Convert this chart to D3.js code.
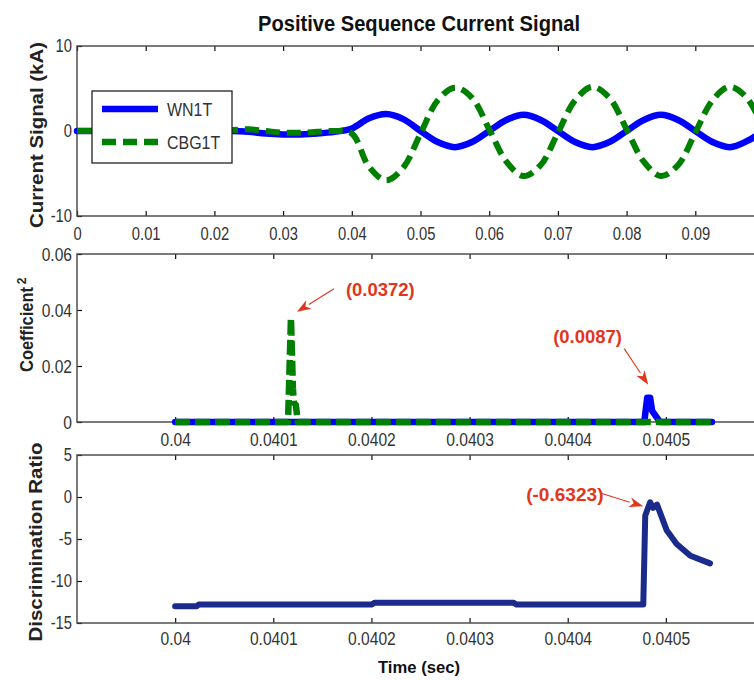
<!DOCTYPE html>
<html>
<head>
<meta charset="utf-8">
<script src="https://cdn.jsdelivr.net/npm/d3@7"></script>
<style>
  body { margin: 0; background: #fff; }
  svg { display: block; }
</style>
</head>
<body>
<svg id="chart" width="754" height="680"></svg>
<script>
// ---- data ----
const signalTime = [0, 0.0025, 0.005, 0.0075, 0.01, 0.0125, 0.015, 0.0175, 0.02, 0.0225,
  0.025, 0.0275, 0.03, 0.0325, 0.035, 0.0375, 0.04, 0.0425, 0.045, 0.0475,
  0.05, 0.0525, 0.055, 0.0575, 0.06, 0.0625, 0.065, 0.0675, 0.07, 0.0725,
  0.075, 0.0775, 0.08, 0.0825, 0.085, 0.0875, 0.09, 0.0925, 0.095, 0.0975, 0.1];
const wn1tSignal = [0, 0, 0, 0, 0, 0, 0, 0, 0, 0,
  -0.1, -0.3, -0.4, -0.4, -0.3, -0.1, 0.3, 1.5, 2.0, 1.4,
  0, -1.3, -1.9, -1.3, 0, 1.3, 1.9, 1.3, 0, -1.3,
  -1.9, -1.3, 0, 1.3, 1.9, 1.3, 0, -1.3, -1.9, -1.2, 0.1];
const cbg1tSignal = [0, 0, 0, 0, 0, 0, 0, 0, 0, 0.1,
  0.2, 0, -0.2, -0.2, -0.1, 0, -0.3, -4.2, -5.8, -4.3,
  -0.3, 3.6, 5.1, 3.9, 0.2, -3.6, -5.3, -4.0, -0.2, 3.6,
  5.2, 3.9, 0.2, -3.6, -5.3, -4.0, -0.2, 3.6, 5.2, 3.9, 0.2];

const coefTimeCBG = [0.04, 0.040115, 0.040118, 0.040119, 0.04012, 0.040121, 0.040123, 0.040125, 0.040547];
const coefCBG = [0, 0, 0.0372, 0.025, 0.012, 0.007, 0.006, 0, 0];
const coefTimeWN = [0.04, 0.040478, 0.040481, 0.040484, 0.040486, 0.04049, 0.040494, 0.040547];
const coefWN = [0, 0, 0.0087, 0.0087, 0.004, 0.002, 0, 0];

const ratioTime = [0.04, 0.040022, 0.040024, 0.0402, 0.040203, 0.040345, 0.040348, 0.040477,
  0.040479, 0.040484, 0.040487, 0.040491, 0.040501, 0.040511, 0.040525, 0.040545];
const ratio = [-13, -13, -12.8, -12.8, -12.6, -12.6, -12.8, -12.8,
  -2.2, -0.63, -1.3, -0.9, -4.0, -5.6, -7.0, -7.9];

const seriesNames = ["WN1T", "CBG1T"];
const signalXTicks = [0, 0.01, 0.02, 0.03, 0.04, 0.05, 0.06, 0.07, 0.08, 0.09];
const zoomXTicks = [0.04, 0.0401, 0.0402, 0.0403, 0.0404, 0.0405];
const signalYTicks = [-10, 0, 10];
const coefYTicks = [0, 0.02, 0.04, 0.06];
const ratioYTicks = [-15, -10, -5, 0, 5];

const SANS = '"Liberation Sans", Arial, sans-serif';
const BLUE = "#0000ff", GREEN = "#008000", NAVY = "#1a2b8c", RED = "#e2361c";
const X0 = 77, X1 = 764;

const svg = d3.select("#chart");
const fmt = d => String(+d.toFixed(4));

// squeeze text horizontally to mimic the narrow face of the original
function condense(sel, k) {
  sel.each(function () {
    const w = this.getComputedTextLength();
    d3.select(this).attr("textLength", w * k).attr("lengthAdjust", "spacingAndGlyphs");
  });
}

function makePanel(cfg) {
  const x = d3.scaleLinear().domain(cfg.xDomain).range([X0, X1]);
  const y = d3.scaleLinear().domain(cfg.yDomain).range([cfg.bottom, cfg.top]);
  const g = svg.append("g");

  g.append("g")
    .attr("transform", `translate(0,${cfg.bottom})`)
    .call(d3.axisBottom(x).tickValues(cfg.xTicks).tickSize(-5).tickSizeOuter(0)
      .tickPadding(cfg.xPad).tickFormat(fmt));
  g.append("g")
    .attr("transform", `translate(0,${cfg.top})`)
    .call(d3.axisTop(x).tickValues(cfg.xTicks).tickSize(-5).tickSizeOuter(0).tickFormat(""));
  g.append("g")
    .attr("class", "yaxis")
    .attr("transform", `translate(${X0},0)`)
    .call(d3.axisLeft(y).tickValues(cfg.yTicks).tickSize(-5).tickSizeOuter(0)
      .tickPadding(5).tickFormat(fmt));

  g.selectAll(".domain").remove();
  g.selectAll(".tick line").attr("stroke", "#111").attr("stroke-width", 1.2);
  g.selectAll(".tick text")
    .attr("font-family", SANS)
    .attr("font-size", cfg.fontSize)
    .attr("fill", "#333");
  g.selectAll(".yaxis .tick text").attr("font-size", cfg.yFontSize);
  condense(g.selectAll(".tick text"), 0.82);

  g.append("rect")
    .attr("x", X0).attr("y", cfg.top)
    .attr("width", X1 - X0).attr("height", cfg.bottom - cfg.top)
    .attr("fill", "none").attr("stroke", "#444").attr("stroke-width", 1.4);

  return { x, y, g };
}

function drawLine(p, times, values, color, width, dash, curve) {
  const line = d3.line()
    .x((d, i) => p.x(times[i]))
    .y(d => p.y(d))
    .curve(curve || d3.curveLinear);
  p.g.append("path")
    .attr("d", line(values))
    .attr("fill", "none")
    .attr("stroke", color)
    .attr("stroke-width", width)
    .attr("stroke-dasharray", dash)
    .attr("stroke-linejoin", "round")
    .attr("stroke-linecap", dash ? "butt" : "round");
}

function arrow(tx, ty, sx, sy) {
  const ang = Math.atan2(ty - sy, tx - sx);
  const len = 14, half = 5;
  const bx = tx - len * Math.cos(ang), by = ty - len * Math.sin(ang);
  svg.append("line")
    .attr("x1", sx).attr("y1", sy).attr("x2", bx).attr("y2", by)
    .attr("stroke", RED).attr("stroke-width", 1.1);
  svg.append("path")
    .attr("d", `M${tx},${ty}L${bx + half * Math.sin(ang)},${by - half * Math.cos(ang)}` +
      `L${bx + 4 * Math.cos(ang)},${by + 4 * Math.sin(ang)}` +
      `L${bx - half * Math.sin(ang)},${by + half * Math.cos(ang)}Z`)
    .attr("fill", RED);
}

// ---- panel 1: current signal ----
const p1 = makePanel({ top: 46, bottom: 216, xDomain: [0, 0.1], yDomain: [-10, 10],
  xTicks: signalXTicks, yTicks: signalYTicks, xPad: 11, fontSize: 18, yFontSize: 18 });
drawLine(p1, signalTime, wn1tSignal, BLUE, 6.5, null, d3.curveCatmullRom);
drawLine(p1, signalTime, cbg1tSignal, GREEN, 6, "14,7", d3.curveCatmullRom);

// legend
const legend = svg.append("g");
legend.append("rect").attr("x", 92).attr("y", 91).attr("width", 140).attr("height", 72)
  .attr("fill", "#fff").attr("stroke", "#222").attr("stroke-width", 1.3);
seriesNames.forEach((name, i) => {
  const yy = 109 + i * 33;
  legend.append("line").attr("x1", 102).attr("x2", 158).attr("y1", yy).attr("y2", yy)
    .attr("stroke", i ? GREEN : BLUE).attr("stroke-width", 6.5)
    .attr("stroke-dasharray", i ? "14,7" : null);
  legend.append("text").attr("x", 167).attr("y", yy).attr("dy", "0.36em")
    .attr("font-family", SANS).attr("font-size", 19).attr("fill", "#333").text(name);
});
condense(legend.selectAll("text"), 0.84);

const title = svg.append("text").attr("x", 419).attr("y", 31).attr("text-anchor", "middle")
  .attr("font-family", SANS).attr("font-weight", "bold").attr("font-size", 22)
  .attr("textLength", 322).attr("lengthAdjust", "spacingAndGlyphs")
  .attr("fill", "#111").text("Positive Sequence Current Signal");

// ---- panel 2: coefficient ----
const p2 = makePanel({ top: 254, bottom: 422, xDomain: [0.0399, 0.0406], yDomain: [0, 0.06],
  xTicks: zoomXTicks, yTicks: coefYTicks, xPad: 11, fontSize: 19, yFontSize: 19 });
drawLine(p2, coefTimeWN, coefWN, BLUE, 6.5, null);
drawLine(p2, coefTimeCBG, coefCBG, GREEN, 6.5, "15,5");

// ---- panel 3: discrimination ratio ----
const p3 = makePanel({ top: 455, bottom: 623, xDomain: [0.0399, 0.0406], yDomain: [-15, 5],
  xTicks: zoomXTicks, yTicks: ratioYTicks, xPad: 9, fontSize: 19, yFontSize: 18 });
drawLine(p3, ratioTime, ratio, NAVY, 6, null);

// ---- annotations ----
const annotations = [
  { p: p2, t: 0.040118, v: 0.0372, label: "(0.0372)", tip: [6, -6], from: [37, -23], text: [49, -16] },
  { p: p2, t: 0.040481, v: 0.0087, label: "(0.0087)", tip: [1, -13], from: [-24, -36], text: [-95, -42] },
  { p: p3, t: 0.040484, v: -0.6323, label: "(-0.6323)", tip: [-7, 4], from: [-42, -13], text: [-117, -5] }
];
annotations.forEach(a => {
  const tx = a.p.x(a.t) + a.tip[0], ty = a.p.y(a.v) + a.tip[1];
  arrow(tx, ty, tx + a.from[0], ty + a.from[1]);
  svg.append("text").attr("x", tx + a.text[0]).attr("y", ty + a.text[1])
    .attr("font-family", SANS).attr("font-weight", "bold").attr("font-size", 19)
    .attr("textLength", a.label.length * 8.6).attr("lengthAdjust", "spacingAndGlyphs")
    .attr("fill", RED).text(a.label);
});

// ---- axis titles ----
function yTitle(x, y, txt, len, anchor) {
  svg.append("text")
    .attr("transform", `translate(${x},${y}) rotate(-90)`)
    .attr("text-anchor", anchor || "middle")
    .attr("font-family", SANS).attr("font-weight", "bold").attr("font-size", 18)
    .attr("textLength", len).attr("lengthAdjust", "spacingAndGlyphs")
    .attr("fill", "#222").text(txt);
}
yTitle(43, 135, "Current Signal (kA)", 186);
yTitle(33, 372, "Coefficient", 85, "start");
svg.append("text").attr("transform", "translate(26,281) rotate(-90)")
  .attr("text-anchor", "middle").attr("font-family", SANS).attr("font-weight", "bold")
  .attr("font-size", 12).attr("fill", "#222").text("2");
yTitle(42, 542, "Discrimination Ratio", 199);

svg.append("text").attr("x", 419).attr("y", 673).attr("text-anchor", "middle")
  .attr("font-family", SANS).attr("font-weight", "bold").attr("font-size", 17)
  .attr("textLength", 82).attr("lengthAdjust", "spacingAndGlyphs")
  .attr("fill", "#111").text("Time (sec)");
</script>
</body>
</html>
